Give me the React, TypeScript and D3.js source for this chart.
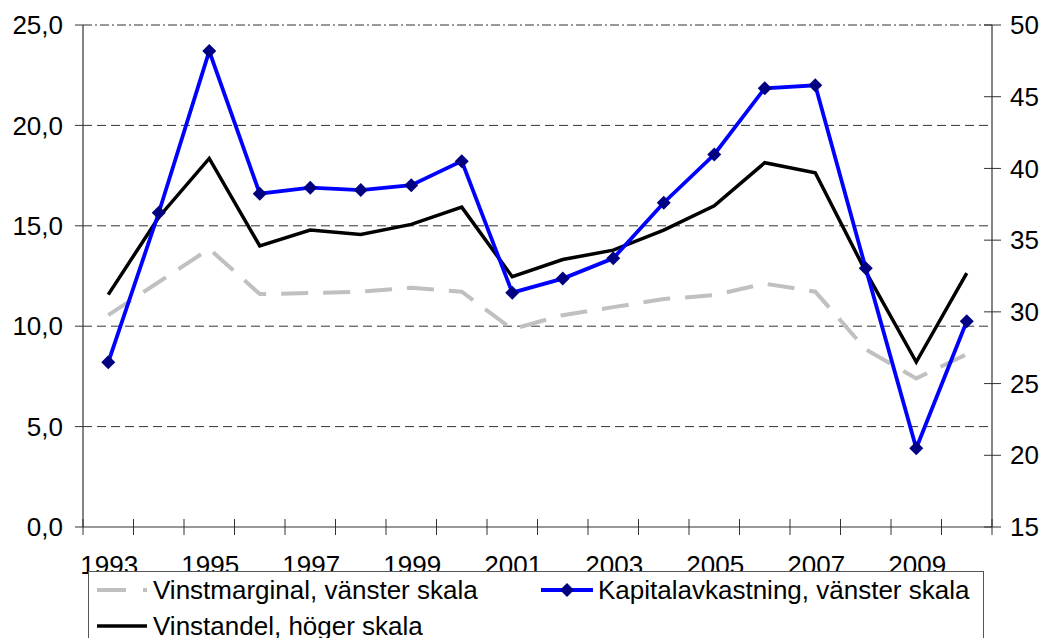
import React from 'react';
import * as d3 from 'd3';

const years = d3.range(1993, 2011).map(String);
const yearLabels = ['1993', '1995', '1997', '1999', '2001', '2003', '2005', '2007', '2009'];

// Vinstmarginal, vänster skala
const vinstmarginal = [10.55, 12.2, 13.85, 11.6, 11.65, 11.72, 11.92, 11.72, 9.85, 10.55, 10.95, 11.35, 11.55, 12.12, 11.72, 8.85, 7.4, 8.6];
// Kapitalavkastning, vänster skala
const kapitalavkastning = [8.2, 15.65, 23.7, 16.6, 16.9, 16.78, 17.02, 18.22, 11.67, 12.37, 13.38, 16.15, 18.55, 21.85, 22.0, 12.88, 3.92, 10.25];
// Vinstandel, höger skala
const vinstandel = [31.2, 36.6, 40.7, 34.6, 35.7, 35.4, 36.1, 37.3, 32.45, 33.65, 34.3, 35.7, 37.4, 40.4, 39.7, 32.8, 26.5, 32.7];

const leftTicks = [0, 5, 10, 15, 20, 25];
const rightTicks = [15, 20, 25, 30, 35, 40, 45, 50];

const W = 1044;
const H = 638;
const margin = { top: 25, right: 52, bottom: 111, left: 83 };
const FONT = '"Liberation Sans", Arial, sans-serif';
const FS = 26;

const App = () => {
  const innerW = W - margin.left - margin.right;
  const innerH = H - margin.top - margin.bottom;

  const x = d3.scaleBand().domain(years).range([0, innerW]).paddingInner(0).paddingOuter(0);
  const cx = (i: number) => (x(years[i]) as number) + x.bandwidth() / 2;
  const yL = d3.scaleLinear().domain([0, 25]).range([innerH, 0]);
  const yR = d3.scaleLinear().domain([15, 50]).range([innerH, 0]);

  const lineL = d3.line<number>().x((d, i) => cx(i)).y(d => yL(d));
  const lineR = d3.line<number>().x((d, i) => cx(i)).y(d => yR(d));
  const fmt = (v: number) => v.toFixed(1).replace('.', ',');

  const diamond = (px: number, py: number, r = 7) =>
    `M${px},${py - r}L${px + r},${py}L${px},${py + r}L${px - r},${py}Z`;

  const boundaries = d3.range(0, years.length + 1).map(i => i * x.bandwidth());

  return (
    <svg width={W} height={H} style={{ position: 'absolute', left: 0, top: 0, background: '#fff' }} fontFamily={FONT}>
      <g transform={`translate(${margin.left},${margin.top})`}>
        {/* gridlines */}
        {leftTicks.filter(t => t > 0).map(t => (
          <line key={t} x1={0} x2={innerW} y1={yL(t)} y2={yL(t)} stroke="#333" strokeWidth={1}
            strokeDasharray={t === 25 ? '9,3,2,3' : '9,5'} />
        ))}

        {/* axes */}
        <line x1={0} x2={0} y1={0} y2={innerH} stroke="#333" strokeWidth={1.2} />
        <line x1={innerW} x2={innerW} y1={0} y2={innerH} stroke="#333" strokeWidth={1.2} />
        <line x1={0} x2={innerW} y1={innerH} y2={innerH} stroke="#333" strokeWidth={1.2} />

        {leftTicks.map(t => (
          <g key={t}>
            <line x1={-8} x2={0} y1={yL(t)} y2={yL(t)} stroke="#333" />
            <text x={-20} y={yL(t)} dy="0.35em" textAnchor="end" fontSize={FS} fill="#000">{fmt(t)}</text>
          </g>
        ))}
        {rightTicks.map(t => (
          <g key={t}>
            <line x1={innerW - 8} x2={innerW + 9} y1={yR(t)} y2={yR(t)} stroke="#333" />
            <text x={innerW + 18} y={yR(t)} dy="0.35em" textAnchor="start" fontSize={FS} fill="#000">{t}</text>
          </g>
        ))}
        {boundaries.map((b, i) => (
          <line key={i} x1={b} x2={b} y1={innerH - 8} y2={innerH + 8} stroke="#333" />
        ))}
        {yearLabels.map(yr => (
          <text key={yr} x={(x(yr) as number) + x.bandwidth() / 2 + 1} y={innerH + 47} textAnchor="middle" fontSize={FS} fill="#000">{yr}</text>
        ))}

        {/* series */}
        <path d={lineL(vinstmarginal) || ''} fill="none" stroke="#c0c0c0" strokeWidth={4} strokeDasharray="27,15" />
        <path d={lineR(vinstandel) || ''} fill="none" stroke="#000" strokeWidth={3.5} />
        <path d={lineL(kapitalavkastning) || ''} fill="none" stroke="#0000ff" strokeWidth={3.8} />
        {kapitalavkastning.map((v, i) => (
          <path key={i} d={diamond(cx(i), yL(v))} fill="#000080" />
        ))}
      </g>

      {/* legend */}
      <g>
        <rect x={88.5} y={571.5} width={895} height={80} fill="#fff" stroke="#555" strokeWidth={1} />
        <line x1={97} x2={126} y1={590} y2={590} stroke="#c0c0c0" strokeWidth={4} />
        <line x1={143} x2={147} y1={590} y2={590} stroke="#c0c0c0" strokeWidth={4} />
        <text x={153} y={590} dy="0.35em" fontSize={FS} fill="#000">Vinstmarginal, vänster skala</text>

        <line x1={541} x2={593} y1={590} y2={590} stroke="#0000ff" strokeWidth={3.8} />
        <path d={diamond(567, 590)} fill="#000080" />
        <text x={598} y={590} dy="0.35em" fontSize={FS} fill="#000">Kapitalavkastning, vänster skala</text>

        <line x1={97} x2={147} y1={626} y2={626} stroke="#000" strokeWidth={3.5} />
        <text x={153} y={626} dy="0.35em" fontSize={FS} fill="#000">Vinstandel, höger skala</text>
      </g>
    </svg>
  );
};

export default App;
